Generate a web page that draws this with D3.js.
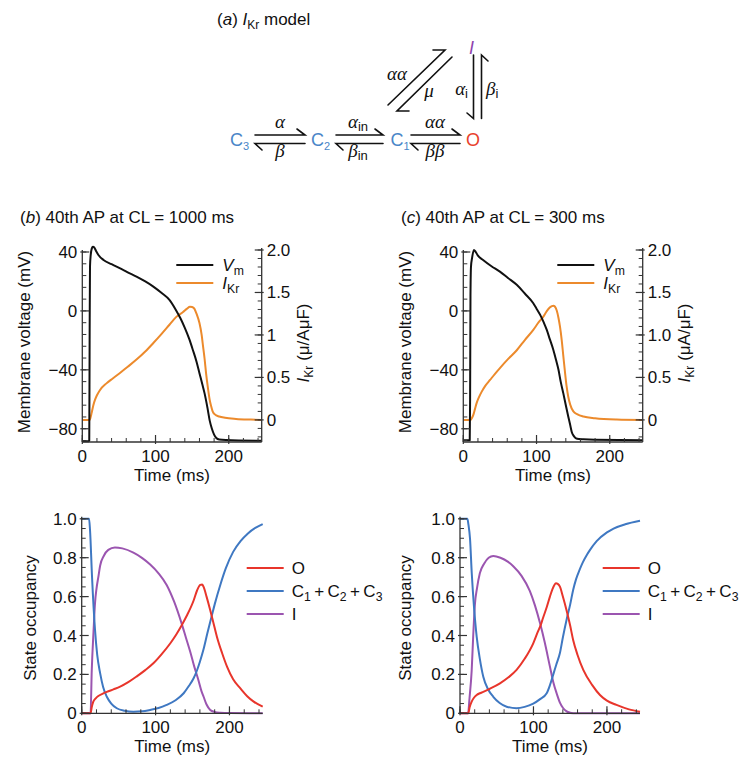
<!DOCTYPE html>
<html><head><meta charset="utf-8">
<script src="https://cdn.jsdelivr.net/npm/d3@7"></script>
<style>body{margin:0;background:#fff}</style>
</head><body><svg id="c" width="756" height="776" xmlns="http://www.w3.org/2000/svg"></svg>
<script>
// ---------- DATA ----------
const vmB_t = [0, 9, 9.5, 10, 10.5, 11.5, 13, 14.5, 16.5, 19, 22, 29, 40, 51, 62, 74, 86, 97, 108, 119, 128, 134, 140, 146, 151, 156, 160, 164, 167, 171, 174, 177, 180, 183, 187, 196, 245];
const vmB_v = [-88.5, -88.5, -88, -20, 30, 38, 42.5, 43.6, 43, 40.5, 38, 34.6, 31.7, 29, 26.2, 23.3, 20, 16.5, 12.3, 7.5, 0.5, -5, -11.5, -19, -26.5, -34.5, -42.3, -50, -56, -66, -74.5, -80, -84, -86.3, -87.3, -87.7, -88.2];
const ikrB_t = [0, 10, 11, 12.7, 15, 17.3, 20, 24, 33, 42, 51, 62, 74, 86, 97, 108, 119, 128, 137.6, 143, 147, 150, 153, 156, 160, 163, 165, 167, 169, 171.5, 174, 176, 178, 181, 187, 195, 210, 230, 245];
const ikrB_v = [0, 0, 0.02, 0.08, 0.17, 0.235, 0.29, 0.35, 0.43, 0.49, 0.55, 0.625, 0.71, 0.805, 0.905, 1.01, 1.12, 1.21, 1.27, 1.31, 1.333, 1.33, 1.31, 1.25, 1.14, 1.0, 0.86, 0.72, 0.55, 0.38, 0.235, 0.16, 0.1, 0.065, 0.04, 0.025, 0.012, 0.004, 0];

const vmC_t = [0, 8.8, 9.3, 9.8, 10.5, 12, 14.5, 17, 20, 27, 38, 50, 61, 73, 84, 95.6, 100, 105, 110, 114, 118, 123, 126.5, 130, 133, 136.6, 140, 143.4, 146, 148, 151, 154, 158, 164, 180, 245];
const vmC_v = [-87.8, -87.8, -60, 10, 30, 36, 41.4, 40, 37.5, 34.6, 30.5, 26.7, 22.4, 17.7, 11.8, 5.2, 1.5, -2.7, -8, -12.9, -19, -26.5, -33, -40, -48, -56, -64, -71.8, -77.5, -82, -85, -86.5, -87, -87.2, -87.5, -87.8];
const ikrC_t = [0, 10, 11.5, 13.7, 16, 18.3, 21, 25, 30, 36.5, 43, 50, 61, 73, 84, 95.6, 103, 109.3, 114, 118.4, 121, 123, 125, 127.5, 130, 132, 134.4, 136.5, 139, 141, 143.4, 146, 150.3, 156, 164, 180, 209.5, 245];
const ikrC_v = [0, 0, 0.02, 0.06, 0.13, 0.2, 0.26, 0.33, 0.40, 0.47, 0.54, 0.61, 0.715, 0.82, 0.94, 1.06, 1.15, 1.215, 1.28, 1.325, 1.34, 1.345, 1.335, 1.29, 1.2, 1.1, 0.94, 0.76, 0.55, 0.40, 0.27, 0.18, 0.1, 0.065, 0.04, 0.02, 0.005, 0];

const oB_t = [0, 12, 13.5, 15.7, 19, 22.5, 28, 34, 43, 52, 63, 74.6, 86, 97, 108, 120, 128, 135, 142, 151.5, 156, 160.5, 163, 165, 169, 174, 178, 183, 190, 196.7, 205, 214.8, 224, 232.8, 245];
const oB_v = [0, 0, 0.03, 0.06, 0.077, 0.089, 0.10, 0.11, 0.123, 0.137, 0.16, 0.19, 0.222, 0.257, 0.303, 0.36, 0.405, 0.45, 0.5, 0.58, 0.63, 0.66, 0.662, 0.65, 0.6, 0.53, 0.47, 0.394, 0.31, 0.24, 0.175, 0.128, 0.088, 0.06, 0.034];
const cB_t = [0, 10, 11.3, 14, 18, 21, 25, 29, 34, 40, 47.5, 58, 70, 82, 92.7, 104, 115, 127, 138, 145, 151.5, 156, 160, 165, 170, 176, 180, 188, 195, 205, 215, 225, 235, 245];
const cB_v = [1, 1, 0.94, 0.7, 0.43, 0.3, 0.205, 0.135, 0.085, 0.05, 0.026, 0.013, 0.008, 0.01, 0.017, 0.027, 0.043, 0.067, 0.103, 0.14, 0.18, 0.22, 0.265, 0.33, 0.41, 0.5, 0.56, 0.665, 0.745, 0.83, 0.885, 0.925, 0.953, 0.973];
const iB_t = [0, 12, 13.6, 16, 18, 20, 22.5, 25, 30, 36, 45, 55, 70, 82, 92.7, 104, 115, 125, 135, 141, 147, 152, 158, 162, 165, 169, 174, 180, 187.6, 200, 245];
const iB_v = [0, 0, 0.22, 0.42, 0.565, 0.64, 0.70, 0.76, 0.81, 0.84, 0.853, 0.848, 0.826, 0.798, 0.765, 0.72, 0.66, 0.575, 0.465, 0.39, 0.315, 0.245, 0.17, 0.115, 0.085, 0.045, 0.017, 0.007, 0.003, 0.001, 0];

const oC_t = [0, 11.3, 13, 15.9, 19, 22.7, 27, 31.7, 40, 54.4, 66, 77, 88, 99.7, 106, 110, 113, 118, 122.4, 126, 128.5, 130.6, 133, 136, 140, 145, 150, 154, 160, 167.8, 180, 190.5, 200, 213, 230, 245];
const oC_v = [0, 0, 0.03, 0.06, 0.08, 0.094, 0.103, 0.11, 0.125, 0.154, 0.185, 0.223, 0.28, 0.36, 0.42, 0.455, 0.49, 0.545, 0.6, 0.64, 0.66, 0.668, 0.665, 0.651, 0.6, 0.53, 0.45, 0.377, 0.3, 0.223, 0.145, 0.094, 0.065, 0.043, 0.02, 0.008];
const cC_t = [0, 10, 11.5, 13.6, 16, 19, 22.7, 27, 31.7, 38, 45.3, 54, 63.5, 77, 88, 99.7, 109, 118, 122, 127, 131, 136, 140, 145, 150, 154, 158, 163, 167, 172, 177, 186, 200, 209, 225, 245];
const cC_v = [1, 1, 0.97, 0.9, 0.72, 0.55, 0.394, 0.28, 0.188, 0.125, 0.085, 0.053, 0.034, 0.026, 0.033, 0.05, 0.073, 0.103, 0.14, 0.2, 0.25, 0.31, 0.39, 0.48, 0.56, 0.634, 0.69, 0.74, 0.775, 0.81, 0.84, 0.885, 0.93, 0.95, 0.972, 0.99];
const iC_t = [0, 11, 13, 15.9, 18, 20.4, 23, 27, 33, 39, 45.3, 55, 65, 72.5, 84, 95, 102, 108.8, 115, 122.4, 127, 131.5, 136, 140.5, 146, 154, 245];
const iC_v = [0, 0, 0.08, 0.22, 0.4, 0.565, 0.64, 0.72, 0.77, 0.8, 0.809, 0.8, 0.78, 0.756, 0.705, 0.63, 0.555, 0.465, 0.37, 0.24, 0.16, 0.103, 0.055, 0.026, 0.008, 0, 0];

const vmTicks = [40, 0, -40, -80];
const ikrTicks = [0, 0.5, 1, 1.5, 2];
const ikrLabelsB = ["0", "0.5", "1", "1.5", "2.0"];
const ikrLabelsC = ["0", "0.5", "1.0", "1.5", "2.0"];
const occTicks = [0, 0.2, 0.4, 0.6, 0.8, 1.0];
const occLabels = ["0", "0.2", "0.4", "0.6", "0.8", "1.0"];
const timeTicks = [0, 100, 200];
const titleB = "40th AP at CL = 1000 ms";
const titleC = "40th AP at CL = 300 ms";

// ---------- STYLE ----------
const SANS = '"Liberation Sans", Arial, Helvetica, sans-serif';
const SERIF = '"Liberation Serif", "Times New Roman", serif';
const FS = 17;
const AX = "#333";
const COL = {vm: "#111", ikr: "#ec8a2c", o: "#e8352b", c: "#3f78c2", i: "#9b55b0"};
const LBL = {c: "#4a86c8", o: "#e8412c", i: "#8e44ad"};

const svg = d3.select("#c");
const z = (a, b) => a.map((t, k) => [t, b[k]]);

function range(a, b, s) { const r = []; for (let v = a; v <= b + 1e-9; v += s) r.push(+v.toFixed(6)); return r; }

function vAxis(g, y, x, majors, labels, minors, dir) {
  const [r0, r1] = y.range();
  g.append("line").attr("x1", x).attr("x2", x).attr("y1", r0).attr("y2", r1 - 2).attr("stroke", AX).attr("stroke-width", 1.3);
  g.selectAll(null).data(minors).join("line")
    .attr("x1", x).attr("x2", x + dir * 4).attr("y1", d => y(d)).attr("y2", d => y(d)).attr("stroke", AX).attr("stroke-width", 1);
  g.selectAll(null).data(majors).join("line")
    .attr("x1", x - dir * 2).attr("x2", x + dir * 7).attr("y1", d => y(d)).attr("y2", d => y(d)).attr("stroke", AX).attr("stroke-width", 1.2);
  g.selectAll(null).data(majors).join("text")
    .attr("x", x - dir * 5).attr("y", d => y(d) + 6).attr("text-anchor", dir > 0 ? "end" : "start")
    .attr("font-family", SANS).attr("font-size", FS).attr("fill", "#111")
    .text((d, k) => labels[k]);
}
function hAxis(g, x, yb) {
  const [r0, r1] = x.range();
  g.append("line").attr("x1", r0).attr("x2", r1).attr("y1", yb).attr("y2", yb).attr("stroke", AX).attr("stroke-width", 1.3);
  g.selectAll(null).data(range(0, 240, 20)).join("line")
    .attr("x1", d => x(d)).attr("x2", d => x(d)).attr("y1", yb).attr("y2", yb - 4).attr("stroke", AX).attr("stroke-width", 1);
  g.selectAll(null).data(timeTicks).join("line")
    .attr("x1", d => x(d)).attr("x2", d => x(d)).attr("y1", yb + 2).attr("y2", yb - 7).attr("stroke", AX).attr("stroke-width", 1.2);
  g.selectAll(null).data(timeTicks).join("text")
    .attr("x", d => x(d)).attr("y", yb + 20).attr("text-anchor", "middle")
    .attr("font-family", SANS).attr("font-size", FS).attr("fill", "#111").text(d => d);
  g.append("text").attr("x", (r0 + r1) / 2).attr("y", yb + 39).attr("text-anchor", "middle")
    .attr("font-family", SANS).attr("font-size", FS).attr("fill", "#111").text("Time (ms)");
}
function rotTitle(g, cx, cy, build) {
  const t = g.append("text").attr("transform", `translate(${cx},${cy}) rotate(-90)`).attr("text-anchor", "middle")
    .attr("font-family", SANS).attr("font-size", FS).attr("fill", "#111");
  build(t);
}
function ikrTspans(t, fs) {
  t.append("tspan").attr("font-style", "italic").text("I");
  t.append("tspan").attr("font-size", fs * 0.72).attr("dy", 4).text("Kr");
  return t;
}
function line(g, x, y, pts, col) {
  g.append("path").datum(pts).attr("fill", "none").attr("stroke", col).attr("stroke-width", 2)
    .attr("stroke-linejoin", "round")
    .attr("d", d3.line().x(d => x(d[0])).y(d => y(d[1])).curve(d3.curveMonotoneX));
}

function topPanel(x0, x1, vt, vv, it, iv, rLabels, unitText, letter, title, titleX) {
  const g = svg.append("g");
  const x = d3.scaleLinear().domain([0, 245]).range([x0, x1]);
  const yV = d3.scaleLinear().domain([-89, 40]).range([442, 252]);
  const yI = d3.scaleLinear().domain([-0.26, 2.0]).range([442, 250]);
  line(g, x, yI, z(it, iv), COL.ikr);
  line(g, x, yV, z(vt, vv), COL.vm);
  vAxis(g, yV, x0, vmTicks, vmTicks.map(v => v < 0 ? "\u2212" + (-v) : "" + v), range(-88, 40, 8), 1);
  vAxis(g, yI, x1, ikrTicks, rLabels, range(-0.2, 2.0, 0.1), -1);
  hAxis(g, x, 442);
  rotTitle(g, x0 - 52, 342, t => t.text("Membrane voltage (mV)"));
  rotTitle(g, x1 + 47, 343, t => { ikrTspans(t, FS); t.append("tspan").attr("dy", -4).text(" " + unitText); });
  const lx = x0 + 94;
  [[265, COL.vm, "V", "m"], [283, COL.ikr, "I", "Kr"]].forEach(([ly, c, a, b]) => {
    g.append("line").attr("x1", lx).attr("x2", lx + 37).attr("y1", ly).attr("y2", ly).attr("stroke", c).attr("stroke-width", 2);
    const t = g.append("text").attr("x", lx + 46).attr("y", ly + 6).attr("font-family", SANS).attr("font-size", FS).attr("fill", "#111");
    t.append("tspan").attr("font-style", "italic").text(a);
    t.append("tspan").attr("font-size", FS * 0.72).attr("dy", 4).text(b);
  });
  const tt = g.append("text").attr("x", titleX).attr("y", 223).attr("font-family", SANS).attr("font-size", FS).attr("fill", "#111");
  tt.append("tspan").text("(");
  tt.append("tspan").attr("font-style", "italic").text(letter);
  tt.append("tspan").text(") " + title);
}

function botPanel(x0, x1, ot, ov, ct, cv, itt, iv, titleCx, lx) {
  const g = svg.append("g");
  const x = d3.scaleLinear().domain([0, 245]).range([x0, x1]);
  const y = d3.scaleLinear().domain([0, 1]).range([713.3, 518.8]);
  line(g, x, y, z(itt, iv), COL.i);
  line(g, x, y, z(ct, cv), COL.c);
  line(g, x, y, z(ot, ov), COL.o);
  vAxis(g, y, x0, occTicks, occLabels, range(0, 1, 0.05), 1);
  hAxis(g, x, 713.3);
  rotTitle(g, titleCx, 618, t => t.text("State occupancy"));
  const items = [[568, COL.o, "O"], [591, COL.c, "C"], [614, COL.i, "I"]];
  items.forEach(([ly, c, lab]) => {
    g.append("line").attr("x1", lx).attr("x2", lx + 37).attr("y1", ly).attr("y2", ly).attr("stroke", c).attr("stroke-width", 2);
    const t = g.append("text").attr("x", lx + 45).attr("y", ly + 6).attr("font-family", SANS).attr("font-size", FS).attr("fill", "#111");
    if (lab === "C") {
      ["1", "2", "3"].forEach((s, k) => {
        t.append("tspan").attr("dy", k === 0 ? 0 : -4).text((k ? "\u2009+\u2009" : "") + "C");
        t.append("tspan").attr("font-size", FS * 0.72).attr("dy", 4).text(s);
      });
    } else t.text(lab);
  });
}

topPanel(82.3, 261.7, vmB_t, vmB_v, ikrB_t, ikrB_v, ikrLabelsB, "(\u03bc/A\u03bcF)", "b", titleB, 20);
topPanel(463.3, 642.7, vmC_t, vmC_v, ikrC_t, ikrC_v, ikrLabelsC, "(\u03bcA/\u03bcF)", "c", titleC, 401);
botPanel(81.7, 262.7, oB_t, oB_v, cB_t, cB_v, iB_t, iB_v, 36, 246.7);
botPanel(460, 640, oC_t, oC_v, cC_t, cC_v, iC_t, iC_v, 411, 602.7);

// ---------- (a) scheme ----------
const d = svg.append("g");
const ta = d.append("text").attr("x", 217).attr("y", 25).attr("font-family", SANS).attr("font-size", FS).attr("fill", "#111");
ta.append("tspan").text("(");
ta.append("tspan").attr("font-style", "italic").text("a");
ta.append("tspan").text(") ");
ta.append("tspan").attr("font-style", "italic").text("I");
ta.append("tspan").attr("font-size", 12).attr("dy", 4).text("Kr");
ta.append("tspan").attr("dy", -4).text(" model");

function state(x, y, main, sub, col, italic) {
  const t = d.append("text").attr("x", x).attr("y", y).attr("font-family", SANS).attr("font-size", 18).attr("fill", col);
  const m = t.append("tspan").text(main);
  if (italic) m.attr("font-style", "italic");
  if (sub) t.append("tspan").attr("font-size", 11).attr("dy", 4).text(sub);
}
state(230, 146, "C", "3", LBL.c);
state(311, 146, "C", "2", LBL.c);
state(390.5, 146, "C", "1", LBL.c);
state(466, 146, "O", null, LBL.o);
state(469, 54, "I", null, LBL.i, true);

function path(p) { d.append("path").attr("d", p).attr("fill", "none").attr("stroke", "#111").attr("stroke-width", 1.6).attr("stroke-linecap", "round"); }
[[255, 305], [336, 383], [411, 460]].forEach(([a, b]) => {
  path(`M${a},135 L${b},135 L${b - 8},129`);
  path(`M${b},143.5 L${a},143.5 L${a + 7},150`);
});
path("M388,105 L445,50 L433,50");
path("M452,57 L397,111 L409,111");
path("M473.5,55 L473.5,118.5 L467,113");
path("M481.5,118.5 L481.5,55 L488,61");

function greek(x, y, anchor, g, sub) {
  const t = d.append("text").attr("x", x).attr("y", y).attr("text-anchor", anchor).attr("fill", "#111");
  t.append("tspan").attr("font-family", SERIF).attr("font-style", "italic").attr("font-size", 19).text(g);
  if (sub) t.append("tspan").attr("font-family", SANS).attr("font-size", 13).attr("dy", 3).text(sub);
}
greek(280, 128, "middle", "\u03b1");
greek(280, 157, "middle", "\u03b2");
greek(358, 128, "middle", "\u03b1", "in");
greek(358, 157, "middle", "\u03b2", "in");
greek(435, 128, "middle", "\u03b1\u03b1");
greek(435, 157, "middle", "\u03b2\u03b2");
greek(397, 80, "middle", "\u03b1\u03b1");
greek(429, 97, "middle", "\u03bc");
greek(468, 95, "end", "\u03b1", "i");
greek(486, 95, "start", "\u03b2", "i");
</script></body></html>
